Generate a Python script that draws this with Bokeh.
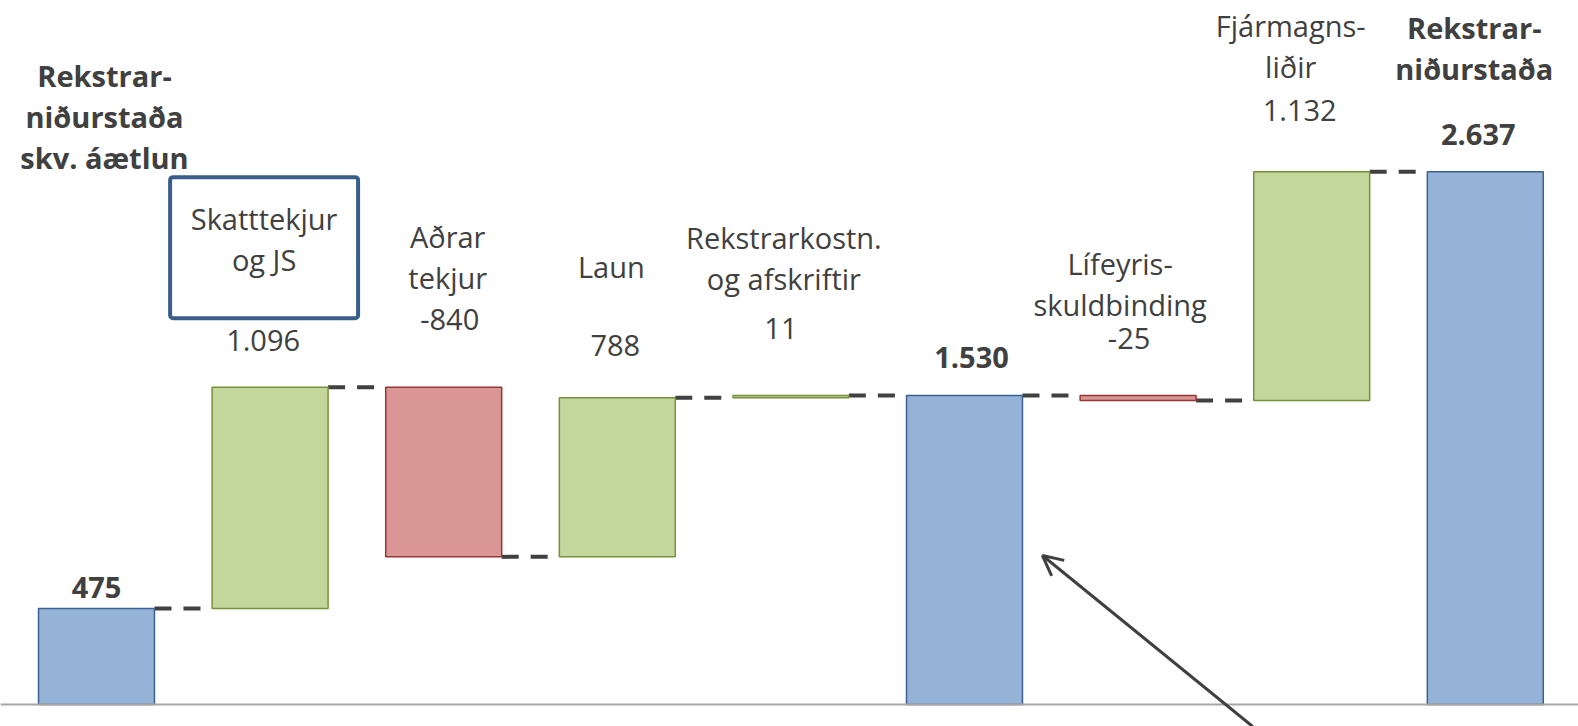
from bokeh.plotting import figure
from bokeh.models import Range1d, Span, Arrow, OpenHead, BoxAnnotation, ColumnDataSource
from bokeh.core.properties import value
from bokeh.embed import file_html
from bokeh.resources import INLINE

# ---------------- data ----------------
cat_lines = [
    ["Rekstrar-", "niðurstaða", "skv. áætlun"],
    ["Skatttekjur", "og JS"],
    ["Aðrar", "tekjur"],
    ["Laun"],
    ["Rekstrarkostn.", "og afskriftir"],
    [],
    ["Lífeyris-", "skuldbinding"],
    ["Fjármagns-", "liðir"],
    ["Rekstrar-", "niðurstaða"],
]
values = [475, 1096, -840, 788, 11, 1530, -25, 1132, 2637]
kinds = ["total", "delta", "delta", "delta", "delta", "total", "delta", "delta", "total"]

# ---------------- layout / style ----------------
W_PX, H_PX = 1578, 726
UPP = 4.95            # data units per pixel (vertical)
ZERO_PX = 704         # frame pixel row of y = 0
FIRST_PX = 96         # frame pixel column of the first category
BAR_W = 0.668
FONT = "Open Sans"
FS = "29px"
TXT = "#404040"
LINE_PX = 41
TXT_SHIFT = 10        # px correction for text baseline
cat_above = [523, 159, 141, 121, 148, None, 122, 136, 134]
val_above = [11, 37, 58, 42, 57, 28, 47, 51, 27]
cat_dx = [8, -6, 4, -6, -7, 0, -18, -21, -11]
val_dx = [0, -7, 6, -2, -10, 7, -9, -12, -7]
XPX = 173.6           # pixels per category

BLUE, BLUE_L = "#95B3D7", "#3E6090"
GREEN, GREEN_L = "#C3D69B", "#76923C"
RED, RED_L = "#D99694", "#953735"

# ---------------- waterfall geometry from data ----------------
idx = list(range(len(values)))
bottoms, tops, fills, lines, levels = [], [], [], [], []
running = 0
for v, k in zip(values, kinds):
    if k == "total":
        b, t = 0, v
        running = v
        fills.append(BLUE); lines.append(BLUE_L)
    else:
        b, t = running, running + v
        running += v
        if v >= 0:
            fills.append(GREEN); lines.append(GREEN_L)
        else:
            fills.append(RED); lines.append(RED_L)
    bottoms.append(min(b, t)); tops.append(max(b, t))
    levels.append(running)

def fmt(v):
    return f"{v:,}".replace(",", ".")

x_start = -FIRST_PX / XPX
p = figure(width=W_PX, height=H_PX, output_backend="svg", toolbar_location=None,
           min_border=0, outline_line_color=None,
           x_range=Range1d(x_start, x_start + W_PX / XPX),
           y_range=Range1d(-(H_PX - ZERO_PX) * UPP, ZERO_PX * UPP))
p.axis.visible = False
p.grid.visible = False
p.background_fill_color = "white"
p.border_fill_color = "white"

# baseline
p.add_layout(Span(location=0, dimension="width", line_color="#A6A6A6", line_width=2))

# connectors
seg = ColumnDataSource(dict(
    x0=[i + BAR_W / 2 for i in idx[:-1]],
    x1=[i + 1 - BAR_W / 2 for i in idx[:-1]],
    y=levels[:-1]))
p.segment(x0="x0", y0="y", x1="x1", y1="y", source=seg, line_color="#404040",
          line_width=4, line_dash="17 12", line_cap="butt")

# bars
src = ColumnDataSource(dict(x=idx, bottom=bottoms, top=tops, fill=fills, line=lines))
p.vbar(x="x", width=BAR_W, bottom="bottom", top="top", source=src,
       fill_color="fill", line_color="line", line_width=1.5)

# labels
norm = dict(x=[], y=[], text=[])
bold = dict(x=[], y=[], text=[])
for i, v in enumerate(values):
    is_total = kinds[i] == "total"
    top = tops[i]
    tgt = bold if is_total else norm
    if cat_lines[i]:
        for j, ln in enumerate(cat_lines[i]):
            tgt["x"].append(i + cat_dx[i] / XPX)
            tgt["y"].append(top + (cat_above[i] + TXT_SHIFT - j * LINE_PX) * UPP)
            tgt["text"].append(ln)
    tgt["x"].append(i + val_dx[i] / XPX)
    tgt["y"].append(top + (val_above[i] + TXT_SHIFT) * UPP)
    tgt["text"].append(fmt(v))

p.text(x="x", y="y", text="text", source=ColumnDataSource(norm),
       text_font=value(FONT), text_font_size=FS, text_color=TXT,
       text_align="center", text_baseline="alphabetic")
p.text(x="x", y="y", text="text", source=ColumnDataSource(bold),
       text_font=value(FONT), text_font_size=FS, text_color=TXT, text_font_style="bold",
       text_align="center", text_baseline="alphabetic")

# highlight box around "Skatttekjur og JS"
p.add_layout(BoxAnnotation(left=1 - 100 / XPX, right=1 + 88 / XPX,
                           top=tops[1] + 210 * UPP, bottom=tops[1] + 69 * UPP,
                           fill_alpha=0, line_alpha=1, line_color="#3A5E8C", line_width=4,
                           border_radius=3))

# arrow pointing at subtotal bar
p.add_layout(Arrow(end=OpenHead(size=20, line_color="#404040", line_width=3),
                   x_start=6.66, y_start=-(H_PX - ZERO_PX) * UPP,
                   x_end=5 + BAR_W / 2 + 0.115, y_end=values[5] * 0.482,
                   line_color="#404040", line_width=3))

open("out.html", "w").write(file_html(p, INLINE))
